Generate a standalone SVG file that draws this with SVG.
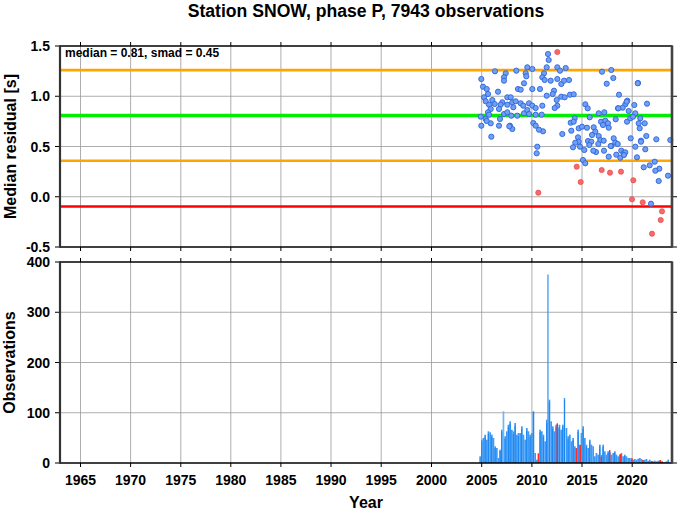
<svg xmlns="http://www.w3.org/2000/svg" width="678" height="511" viewBox="0 0 678 511">
<style>
text{font-family:"Liberation Sans",Arial,sans-serif;font-weight:bold;fill:#000}
.tl{font-size:14px;text-anchor:end}
.tx{font-size:14px;text-anchor:middle}
.lab{font-size:16px;text-anchor:middle}
.grid line{stroke:#999;stroke-width:0.8}
.tick line{stroke:#000;stroke-width:1}
.b{fill:#6fa0f5;stroke:#2e64d8;stroke-width:0.9}
.r{fill:#f56a6a;stroke:#ea4848;stroke-width:0.7}
</style>
<rect width="678" height="511" fill="#fff"/>
<text x="366" y="17" style="font-size:17.6px" text-anchor="middle">Station SNOW, phase P, 7943 observations</text>

<g id="top-panel">
<g class="grid">
<line x1="80.5" y1="46" x2="80.5" y2="247"/><line x1="130.6" y1="46" x2="130.6" y2="247"/><line x1="180.8" y1="46" x2="180.8" y2="247"/><line x1="230.8" y1="46" x2="230.8" y2="247"/><line x1="280.9" y1="46" x2="280.9" y2="247"/><line x1="331" y1="46" x2="331" y2="247"/><line x1="381.2" y1="46" x2="381.2" y2="247"/><line x1="431.5" y1="46" x2="431.5" y2="247"/><line x1="481.7" y1="46" x2="481.7" y2="247"/><line x1="531.9" y1="46" x2="531.9" y2="247"/><line x1="582" y1="46" x2="582" y2="247"/><line x1="632.2" y1="46" x2="632.2" y2="247"/>
<line x1="60" y1="96.25" x2="672" y2="96.25"/><line x1="60" y1="146.5" x2="672" y2="146.5"/><line x1="60" y1="196.75" x2="672" y2="196.75"/>
</g>
<g id="ref-lines">
<line x1="60" y1="70.1" x2="672" y2="70.1" stroke="#ffa500" stroke-width="2.6"/>
<line x1="60" y1="115.5" x2="672" y2="115.5" stroke="#00ee00" stroke-width="3.4"/>
<line x1="60" y1="160.8" x2="672" y2="160.8" stroke="#ffa500" stroke-width="2.6"/>
<line x1="60" y1="206.5" x2="672" y2="206.5" stroke="#ff0000" stroke-width="2.6"/>
</g>
<g id="points">
<circle class="r" cx="557.3" cy="52" r="2.6"/>
<g class="bp">
<circle class="b" cx="548" cy="54" r="2.6"/><circle class="b" cx="548.7" cy="60" r="2.6"/><circle class="b" cx="546.7" cy="67.3" r="2.6"/><circle class="b" cx="557.3" cy="67.3" r="2.6"/><circle class="b" cx="560" cy="70.7" r="2.6"/><circle class="b" cx="565.7" cy="68" r="2.6"/><circle class="b" cx="495" cy="71.3" r="2.6"/><circle class="b" cx="505.7" cy="73.3" r="2.6"/><circle class="b" cx="504" cy="77.3" r="2.6"/><circle class="b" cx="504" cy="80.7" r="2.6"/><circle class="b" cx="516.3" cy="70.7" r="2.6"/><circle class="b" cx="527.3" cy="67.3" r="2.6"/><circle class="b" cx="532.3" cy="69" r="2.6"/><circle class="b" cx="525.7" cy="73.3" r="2.6"/><circle class="b" cx="526.3" cy="76.3" r="2.6"/><circle class="b" cx="524" cy="83.3" r="2.6"/><circle class="b" cx="518" cy="89" r="2.6"/><circle class="b" cx="520.7" cy="89.7" r="2.6"/><circle class="b" cx="532.3" cy="89" r="2.6"/><circle class="b" cx="540" cy="89" r="2.6"/><circle class="b" cx="544" cy="73.3" r="2.6"/><circle class="b" cx="542.3" cy="77.3" r="2.6"/><circle class="b" cx="544.7" cy="80" r="2.6"/><circle class="b" cx="550.7" cy="80.7" r="2.6"/><circle class="b" cx="557.3" cy="79" r="2.6"/><circle class="b" cx="561.3" cy="84" r="2.6"/><circle class="b" cx="564" cy="80.7" r="2.6"/><circle class="b" cx="569" cy="80" r="2.6"/><circle class="b" cx="554" cy="90.7" r="2.6"/><circle class="b" cx="546.7" cy="95.7" r="2.6"/><circle class="b" cx="552.7" cy="94" r="2.6"/><circle class="b" cx="556.7" cy="100" r="2.6"/><circle class="b" cx="561.3" cy="96.7" r="2.6"/><circle class="b" cx="564.7" cy="97.3" r="2.6"/><circle class="b" cx="570" cy="94.7" r="2.6"/><circle class="b" cx="557.3" cy="105.7" r="2.6"/><circle class="b" cx="554.7" cy="108" r="2.6"/>
<circle class="b" cx="481.3" cy="79" r="2.6"/><circle class="b" cx="483" cy="86.7" r="2.6"/><circle class="b" cx="486.7" cy="89" r="2.6"/><circle class="b" cx="488" cy="94" r="2.6"/><circle class="b" cx="484" cy="97.3" r="2.6"/><circle class="b" cx="485.7" cy="101.3" r="2.6"/><circle class="b" cx="489" cy="104.7" r="2.6"/><circle class="b" cx="492.3" cy="100" r="2.6"/><circle class="b" cx="494.7" cy="104" r="2.6"/><circle class="b" cx="490.7" cy="109" r="2.6"/><circle class="b" cx="488" cy="112.3" r="2.6"/><circle class="b" cx="489" cy="114.7" r="2.6"/><circle class="b" cx="480.7" cy="116.7" r="2.6"/><circle class="b" cx="485.7" cy="119" r="2.6"/><circle class="b" cx="490.7" cy="123.3" r="2.6"/><circle class="b" cx="481.3" cy="125.7" r="2.6"/><circle class="b" cx="499" cy="125.7" r="2.6"/><circle class="b" cx="491.3" cy="136.7" r="2.6"/><circle class="b" cx="498" cy="91.7" r="2.6"/>
<circle class="b" cx="507.3" cy="97.3" r="2.6"/><circle class="b" cx="510.7" cy="97.3" r="2.6"/><circle class="b" cx="512.3" cy="102.3" r="2.6"/><circle class="b" cx="515.7" cy="101.3" r="2.6"/><circle class="b" cx="502.3" cy="102.3" r="2.6"/><circle class="b" cx="500.7" cy="104.7" r="2.6"/><circle class="b" cx="507.3" cy="104.7" r="2.6"/><circle class="b" cx="513.3" cy="107.3" r="2.6"/><circle class="b" cx="520.7" cy="103.3" r="2.6"/><circle class="b" cx="523.3" cy="105.7" r="2.6"/><circle class="b" cx="529" cy="103.3" r="2.6"/><circle class="b" cx="532.3" cy="105.7" r="2.6"/><circle class="b" cx="535.7" cy="108" r="2.6"/><circle class="b" cx="542.3" cy="105.7" r="2.6"/><circle class="b" cx="499" cy="109" r="2.6"/><circle class="b" cx="504" cy="114" r="2.6"/><circle class="b" cx="507.3" cy="112.3" r="2.6"/><circle class="b" cx="511.3" cy="115.7" r="2.6"/><circle class="b" cx="517.3" cy="115.7" r="2.6"/><circle class="b" cx="524" cy="113.3" r="2.6"/><circle class="b" cx="527.3" cy="110" r="2.6"/><circle class="b" cx="529" cy="114" r="2.6"/><circle class="b" cx="535.7" cy="114.7" r="2.6"/><circle class="b" cx="541.7" cy="114.7" r="2.6"/><circle class="b" cx="500" cy="119" r="2.6"/><circle class="b" cx="510" cy="125.7" r="2.6"/><circle class="b" cx="512.3" cy="129" r="2.6"/><circle class="b" cx="533.3" cy="123" r="2.6"/><circle class="b" cx="535.7" cy="125.7" r="2.6"/><circle class="b" cx="543" cy="131.3" r="2.6"/><circle class="b" cx="562.3" cy="134" r="2.6"/><circle class="b" cx="571.3" cy="130.7" r="2.6"/><circle class="b" cx="570.7" cy="122.7" r="2.6"/><circle class="b" cx="486.7" cy="121" r="2.6"/><circle class="b" cx="509.3" cy="126.3" r="2.6"/><circle class="b" cx="539" cy="129.7" r="2.6"/><circle class="b" cx="537.3" cy="146.7" r="2.6"/><circle class="b" cx="536.7" cy="153.3" r="2.6"/>
<circle class="b" cx="602" cy="71.7" r="2.6"/><circle class="b" cx="611.3" cy="70" r="2.6"/><circle class="b" cx="613.3" cy="78" r="2.6"/><circle class="b" cx="606.7" cy="83.7" r="2.6"/><circle class="b" cx="638" cy="83" r="2.6"/><circle class="b" cx="573.7" cy="94.3" r="2.6"/><circle class="b" cx="619" cy="94.7" r="2.6"/><circle class="b" cx="585.3" cy="104.3" r="2.6"/><circle class="b" cx="587.7" cy="108.3" r="2.6"/><circle class="b" cx="627.3" cy="100.7" r="2.6"/><circle class="b" cx="625.3" cy="104.3" r="2.6"/><circle class="b" cx="634.3" cy="105" r="2.6"/><circle class="b" cx="647" cy="103.7" r="2.6"/><circle class="b" cx="618" cy="108.3" r="2.6"/><circle class="b" cx="622.7" cy="107.7" r="2.6"/><circle class="b" cx="628.7" cy="111" r="2.6"/><circle class="b" cx="635.3" cy="113.3" r="2.6"/><circle class="b" cx="604.3" cy="112.3" r="2.6"/><circle class="b" cx="598.7" cy="113.3" r="2.6"/><circle class="b" cx="574.7" cy="118.3" r="2.6"/><circle class="b" cx="573.7" cy="121.7" r="2.6"/><circle class="b" cx="589.7" cy="117.3" r="2.6"/><circle class="b" cx="615.7" cy="119.3" r="2.6"/><circle class="b" cx="627" cy="121.7" r="2.6"/><circle class="b" cx="630.3" cy="118.3" r="2.6"/><circle class="b" cx="633" cy="116.7" r="2.6"/><circle class="b" cx="640.3" cy="118.3" r="2.6"/><circle class="b" cx="638.7" cy="123.3" r="2.6"/><circle class="b" cx="644.7" cy="123.3" r="2.6"/><circle class="b" cx="639.7" cy="128.3" r="2.6"/><circle class="b" cx="646.3" cy="136" r="2.6"/><circle class="b" cx="656.3" cy="139.3" r="2.6"/><circle class="b" cx="670.3" cy="140" r="2.6"/><circle class="b" cx="630.7" cy="138.3" r="2.6"/><circle class="b" cx="641" cy="140.7" r="2.6"/><circle class="b" cx="635.3" cy="146.7" r="2.6"/><circle class="b" cx="645.3" cy="149.3" r="2.6"/><circle class="b" cx="601" cy="121.7" r="2.6"/><circle class="b" cx="605.3" cy="120.7" r="2.6"/><circle class="b" cx="608" cy="123.3" r="2.6"/><circle class="b" cx="603" cy="125" r="2.6"/><circle class="b" cx="608.7" cy="127.7" r="2.6"/><circle class="b" cx="578.7" cy="128.3" r="2.6"/><circle class="b" cx="582" cy="126.7" r="2.6"/><circle class="b" cx="587" cy="127.7" r="2.6"/><circle class="b" cx="593.7" cy="127.3" r="2.6"/><circle class="b" cx="595.3" cy="131.7" r="2.6"/><circle class="b" cx="592" cy="135" r="2.6"/><circle class="b" cx="598.7" cy="136" r="2.6"/><circle class="b" cx="600.3" cy="140" r="2.6"/><circle class="b" cx="603.7" cy="140.7" r="2.6"/><circle class="b" cx="578" cy="137.3" r="2.6"/><circle class="b" cx="578.7" cy="141.7" r="2.6"/><circle class="b" cx="575.3" cy="142.7" r="2.6"/><circle class="b" cx="588" cy="141" r="2.6"/><circle class="b" cx="591.3" cy="141.7" r="2.6"/><circle class="b" cx="613.7" cy="138.3" r="2.6"/><circle class="b" cx="615.3" cy="142.7" r="2.6"/><circle class="b" cx="611.3" cy="146" r="2.6"/><circle class="b" cx="617.7" cy="144" r="2.6"/><circle class="b" cx="604" cy="150.7" r="2.6"/><circle class="b" cx="596" cy="152" r="2.6"/><circle class="b" cx="608.7" cy="156.7" r="2.6"/><circle class="b" cx="616.3" cy="154.7" r="2.6"/><circle class="b" cx="621.3" cy="150.7" r="2.6"/><circle class="b" cx="623.7" cy="153.3" r="2.6"/><circle class="b" cx="625.3" cy="152.3" r="2.6"/><circle class="b" cx="620.3" cy="157.7" r="2.6"/><circle class="b" cx="637" cy="157.3" r="2.6"/><circle class="b" cx="583" cy="160" r="2.6"/><circle class="b" cx="585.3" cy="163.3" r="2.6"/><circle class="b" cx="654.7" cy="161.7" r="2.6"/><circle class="b" cx="643.7" cy="167.3" r="2.6"/><circle class="b" cx="649.7" cy="165.3" r="2.6"/><circle class="b" cx="659.3" cy="168.7" r="2.6"/>
<circle class="b" cx="573" cy="147.3" r="2.6"/><circle class="b" cx="580" cy="146.7" r="2.6"/><circle class="b" cx="584.3" cy="150" r="2.6"/><circle class="b" cx="589.3" cy="145" r="2.6"/><circle class="b" cx="593.3" cy="150.7" r="2.6"/><circle class="b" cx="598.3" cy="144" r="2.6"/><circle class="b" cx="610.7" cy="146" r="2.6"/><circle class="b" cx="624" cy="155" r="2.6"/><circle class="b" cx="641" cy="141.7" r="2.6"/><circle class="b" cx="655.3" cy="170.7" r="2.6"/><circle class="b" cx="668" cy="175.7" r="2.6"/><circle class="b" cx="658.7" cy="181" r="2.6"/><circle class="b" cx="651" cy="203.7" r="2.6"/><circle class="b" cx="618.3" cy="108.3" r="2.6"/><circle class="b" cx="626.7" cy="101.7" r="2.6"/><circle class="b" cx="637.7" cy="83.3" r="2.6"/>
</g>
<circle class="r" cx="576.7" cy="166.7" r="2.6"/><circle class="r" cx="580.7" cy="182" r="2.6"/><circle class="r" cx="601.7" cy="170" r="2.6"/><circle class="r" cx="610" cy="172.7" r="2.6"/><circle class="r" cx="621" cy="171.7" r="2.6"/><circle class="r" cx="633.3" cy="180.3" r="2.6"/><circle class="r" cx="538.3" cy="192.7" r="2.6"/><circle class="r" cx="632" cy="199.3" r="2.6"/><circle class="r" cx="642.7" cy="202.3" r="2.6"/><circle class="r" cx="662" cy="211.3" r="2.6"/><circle class="r" cx="660.7" cy="220" r="2.6"/><circle class="r" cx="652" cy="233.7" r="2.6"/>
</g>
<g class="tick">
<line x1="55" y1="46" x2="60" y2="46"/><line x1="55" y1="96.25" x2="60" y2="96.25"/><line x1="55" y1="146.5" x2="60" y2="146.5"/><line x1="55" y1="196.75" x2="60" y2="196.75"/><line x1="55" y1="247" x2="60" y2="247"/>
<line x1="672" y1="96.25" x2="677" y2="96.25"/><line x1="672" y1="146.5" x2="677" y2="146.5"/><line x1="672" y1="196.75" x2="677" y2="196.75"/><line x1="672" y1="247" x2="677" y2="247"/>
<line x1="80.5" y1="42" x2="80.5" y2="46"/><line x1="130.6" y1="42" x2="130.6" y2="46"/><line x1="180.8" y1="42" x2="180.8" y2="46"/><line x1="230.8" y1="42" x2="230.8" y2="46"/><line x1="280.9" y1="42" x2="280.9" y2="46"/><line x1="331" y1="42" x2="331" y2="46"/><line x1="381.2" y1="42" x2="381.2" y2="46"/><line x1="431.5" y1="42" x2="431.5" y2="46"/><line x1="481.7" y1="42" x2="481.7" y2="46"/><line x1="531.9" y1="42" x2="531.9" y2="46"/><line x1="582" y1="42" x2="582" y2="46"/><line x1="632.2" y1="42" x2="632.2" y2="46"/>
<line x1="80.5" y1="247" x2="80.5" y2="251"/><line x1="130.6" y1="247" x2="130.6" y2="251"/><line x1="180.8" y1="247" x2="180.8" y2="251"/><line x1="230.8" y1="247" x2="230.8" y2="251"/><line x1="280.9" y1="247" x2="280.9" y2="251"/><line x1="331" y1="247" x2="331" y2="251"/><line x1="381.2" y1="247" x2="381.2" y2="251"/><line x1="431.5" y1="247" x2="431.5" y2="251"/><line x1="481.7" y1="247" x2="481.7" y2="251"/><line x1="531.9" y1="247" x2="531.9" y2="251"/><line x1="582" y1="247" x2="582" y2="251"/><line x1="632.2" y1="247" x2="632.2" y2="251"/>
</g>
<g id="top-frame">
<line x1="60" y1="46" x2="672" y2="46" stroke="#000" stroke-width="1.4"/>
<line x1="60" y1="247" x2="672" y2="247" stroke="#000" stroke-width="1.6"/>
<line x1="60" y1="45.3" x2="60" y2="247.7" stroke="#333" stroke-width="2.2"/>
<line x1="672" y1="45.3" x2="672" y2="247.7" stroke="#444" stroke-width="2.6"/>
</g>
<text x="65" y="57" style="font-size:12px">median = 0.81, smad = 0.45</text>
<g id="top-ticklabels" class="tl">
<text x="50" y="51">1.5</text><text x="50" y="101.25">1.0</text><text x="50" y="151.5">0.5</text><text x="50" y="201.75">0.0</text><text x="50" y="252">-0.5</text>
</g>
<text class="lab" transform="translate(16,146.5) rotate(-90)">Median residual [s]</text>
</g>

<g id="bottom-panel">
<g class="grid">
<line x1="80.5" y1="262" x2="80.5" y2="463"/><line x1="130.6" y1="262" x2="130.6" y2="463"/><line x1="180.8" y1="262" x2="180.8" y2="463"/><line x1="230.8" y1="262" x2="230.8" y2="463"/><line x1="280.9" y1="262" x2="280.9" y2="463"/><line x1="331" y1="262" x2="331" y2="463"/><line x1="381.2" y1="262" x2="381.2" y2="463"/><line x1="431.5" y1="262" x2="431.5" y2="463"/><line x1="481.7" y1="262" x2="481.7" y2="463"/><line x1="531.9" y1="262" x2="531.9" y2="463"/><line x1="582" y1="262" x2="582" y2="463"/><line x1="632.2" y1="262" x2="632.2" y2="463"/>
<line x1="60" y1="312.25" x2="672" y2="312.25"/><line x1="60" y1="362.5" x2="672" y2="362.5"/><line x1="60" y1="412.75" x2="672" y2="412.75"/>
</g>
<g id="bars-light" fill="#3d9af6">
<rect x="479.3" y="456.3" width="1.7" height="6.7"/><rect x="481" y="439.7" width="1.7" height="23.3"/><rect x="482.6" y="438" width="1.7" height="25"/><rect x="484.3" y="434.7" width="1.7" height="28.3"/><rect x="486" y="439.7" width="1.7" height="23.3"/><rect x="487.6" y="431.3" width="1.7" height="31.7"/><rect x="489.3" y="432.3" width="1.7" height="30.7"/><rect x="491" y="434.7" width="1.7" height="28.3"/><rect x="492.6" y="438" width="1.7" height="25"/><rect x="494.3" y="446.3" width="1.7" height="16.7"/><rect x="496" y="448" width="1.7" height="15"/><rect x="497.6" y="458" width="1.7" height="5"/><rect x="499.3" y="449.7" width="1.7" height="13.3"/><rect x="501" y="429.7" width="1.7" height="33.3"/><rect x="502.6" y="411.3" width="1.7" height="51.7" fill="#70b6fa"/><rect x="504.3" y="436.3" width="1.7" height="26.7"/><rect x="506" y="431.3" width="1.7" height="31.7"/><rect x="507.6" y="424.7" width="1.7" height="38.3"/><rect x="509.3" y="421.3" width="1.7" height="41.7"/><rect x="511" y="429.7" width="1.7" height="33.3"/><rect x="512.6" y="431.3" width="1.7" height="31.7"/><rect x="514.3" y="423" width="1.7" height="40"/><rect x="516" y="434.7" width="1.7" height="28.3"/><rect x="517.6" y="433" width="1.7" height="30"/><rect x="519.3" y="433" width="1.7" height="30"/><rect x="521" y="426.3" width="1.7" height="36.7"/><rect x="522.6" y="434.7" width="1.7" height="28.3"/><rect x="524.3" y="439.7" width="1.7" height="23.3"/><rect x="526" y="428" width="1.7" height="35"/><rect x="527.6" y="431.3" width="1.7" height="31.7"/><rect x="529.3" y="434.7" width="1.7" height="28.3"/><rect x="531" y="433" width="1.7" height="30"/><rect x="532.6" y="411.3" width="1.7" height="51.7"/><rect x="534.3" y="453" width="1.7" height="10"/><rect x="536" y="459.7" width="1.7" height="3.3"/><rect x="537.6" y="460" width="1.7" height="3"/><rect x="539.3" y="429.7" width="1.7" height="33.3"/><rect x="541" y="431.3" width="1.7" height="31.7"/><rect x="542.6" y="434.7" width="1.7" height="28.3"/><rect x="544.3" y="441.3" width="1.7" height="21.7"/><rect x="546" y="419.7" width="1.7" height="43.3"/><rect x="547.3" y="274.5" width="1.3" height="188.5"/><rect x="548.6" y="399.7" width="1.7" height="63.3"/><rect x="550.3" y="421.3" width="1.7" height="41.7"/><rect x="552" y="426.3" width="1.7" height="36.7"/><rect x="553.6" y="431.3" width="1.7" height="31.7"/><rect x="555.3" y="424.7" width="1.7" height="38.3"/><rect x="557" y="428" width="1.7" height="35"/><rect x="558.6" y="424.7" width="1.7" height="38.3"/><rect x="560.3" y="429.7" width="1.7" height="33.3"/><rect x="562" y="424.7" width="1.7" height="38.3"/><rect x="563.8" y="398" width="1.4" height="65"/><rect x="565.6" y="428" width="1.7" height="35"/><rect x="567.3" y="436.3" width="1.7" height="26.7"/><rect x="569" y="434.7" width="1.7" height="28.3"/><rect x="570.6" y="441.3" width="1.7" height="21.7"/><rect x="572.3" y="438" width="1.7" height="25"/><rect x="574" y="446.3" width="1.7" height="16.7"/><rect x="575.6" y="448" width="1.7" height="15"/><rect x="577.3" y="429.7" width="1.7" height="33.3"/><rect x="579" y="444.7" width="1.7" height="18.3"/><rect x="580.6" y="433" width="1.7" height="30"/><rect x="582.3" y="426.3" width="1.7" height="36.7"/><rect x="584" y="438" width="1.7" height="25"/><rect x="585.6" y="444.7" width="1.7" height="18.3"/><rect x="587.3" y="448" width="1.7" height="15"/><rect x="589" y="439.7" width="1.7" height="23.3"/><rect x="590.6" y="444.7" width="1.7" height="18.3"/><rect x="592.3" y="446.3" width="1.7" height="16.7"/><rect x="594" y="456.3" width="1.7" height="6.7"/><rect x="595.6" y="453" width="1.7" height="10"/><rect x="597.3" y="454.7" width="1.7" height="8.3"/><rect x="599" y="444.7" width="1.7" height="18.3"/><rect x="600.6" y="455" width="1.7" height="8"/><rect x="602.3" y="444.7" width="1.7" height="18.3"/><rect x="604" y="451.3" width="1.7" height="11.7"/><rect x="605.6" y="454.7" width="1.7" height="8.3"/><rect x="607.3" y="451.3" width="1.7" height="11.7"/><rect x="609" y="452" width="1.7" height="11"/><rect x="610.6" y="454.7" width="1.7" height="8.3"/><rect x="612.3" y="453" width="1.7" height="10"/><rect x="614" y="451.3" width="1.7" height="11.7"/><rect x="615.6" y="454.7" width="1.7" height="8.3"/><rect x="617.3" y="456.3" width="1.7" height="6.7"/><rect x="619" y="455" width="1.7" height="8"/><rect x="620.6" y="453" width="1.7" height="10"/><rect x="622.3" y="456.3" width="1.7" height="6.7"/><rect x="624" y="454.7" width="1.7" height="8.3"/><rect x="625.6" y="456.3" width="1.7" height="6.7"/><rect x="627.3" y="458" width="1.7" height="5"/><rect x="629" y="458" width="1.7" height="5"/><rect x="630.6" y="458.5" width="1.7" height="4.5"/><rect x="632.3" y="459.7" width="1.7" height="3.3"/><rect x="634" y="459" width="1.7" height="4"/><rect x="635.6" y="459.7" width="1.7" height="3.3"/><rect x="637.3" y="458.7" width="1.7" height="4.3"/><rect x="639" y="458" width="1.7" height="5"/><rect x="640.6" y="459" width="1.7" height="4"/><rect x="642.3" y="460" width="1.7" height="3"/><rect x="644" y="459.7" width="1.7" height="3.3"/><rect x="645.6" y="459" width="1.7" height="4"/><rect x="647.3" y="460.7" width="1.7" height="2.3"/><rect x="649" y="459.7" width="1.7" height="3.3"/><rect x="650.6" y="461.3" width="1.7" height="1.7"/><rect x="652.3" y="461.3" width="1.7" height="1.7"/><rect x="654" y="460.7" width="1.7" height="2.3"/><rect x="655.6" y="461.3" width="1.7" height="1.7"/><rect x="657.3" y="460.7" width="1.7" height="2.3"/><rect x="659" y="460.5" width="1.7" height="2.5"/><rect x="660.6" y="461.3" width="1.7" height="1.7"/><rect x="662.3" y="462.3" width="1.7" height="0.7"/><rect x="664" y="462.3" width="1.7" height="0.7"/><rect x="665.6" y="461.3" width="1.7" height="1.7"/><rect x="667.3" y="459.7" width="1.7" height="3.3"/><rect x="669" y="462.3" width="1.7" height="0.7"/>
</g>
<g id="bars-dark" fill="#1a84f0">
<rect x="481.2" y="442" width="1" height="21"/><rect x="484.5" y="437" width="1" height="26"/><rect x="487.8" y="434" width="1" height="29"/><rect x="491.2" y="437" width="1" height="26"/><rect x="494.5" y="448" width="1" height="15"/><rect x="499.5" y="451" width="1" height="12"/><rect x="501.2" y="432" width="1" height="31"/><rect x="504.5" y="439" width="1" height="24"/><rect x="507.8" y="427" width="1" height="36"/><rect x="509.5" y="424" width="1" height="39"/><rect x="512.8" y="434" width="1" height="29"/><rect x="514.5" y="426" width="1" height="37"/><rect x="517.8" y="436" width="1" height="27"/><rect x="521.2" y="429" width="1" height="34"/><rect x="526.2" y="431" width="1" height="32"/><rect x="529.5" y="437" width="1" height="26"/><rect x="532.8" y="412" width="1" height="51"/><rect x="539.5" y="432" width="1" height="31"/><rect x="542.8" y="437" width="1" height="26"/><rect x="546.2" y="423" width="1" height="40"/><rect x="548.8" y="402" width="1" height="61"/><rect x="552.2" y="429" width="1" height="34"/><rect x="555.5" y="427" width="1" height="36"/><rect x="558.8" y="427" width="1" height="36"/><rect x="562.2" y="427" width="1" height="36"/><rect x="564" y="400" width="1" height="63"/><rect x="567.5" y="439" width="1" height="24"/><rect x="572.5" y="440" width="1" height="23"/><rect x="577.5" y="432" width="1" height="31"/><rect x="582.5" y="429" width="1" height="34"/><rect x="585.8" y="447" width="1" height="16"/><rect x="589.2" y="442" width="1" height="21"/><rect x="599.2" y="447" width="1" height="16"/><rect x="602.5" y="447" width="1" height="16"/><rect x="607.5" y="453" width="1" height="10"/><rect x="614.2" y="453" width="1" height="10"/><rect x="620.8" y="455" width="1" height="8"/><rect x="624.2" y="456" width="1" height="7"/>
</g>
<g id="bars-red" fill="#ff2a2a">
<rect x="537.6" y="453.3" width="1.4" height="9.7"/><rect x="556.6" y="423.3" width="1.4" height="39.7"/><rect x="575.6" y="448.3" width="1.4" height="14.7"/><rect x="579.6" y="445" width="1.4" height="18"/><rect x="600.6" y="456.7" width="1.4" height="6.3"/><rect x="609" y="450" width="1.4" height="13"/><rect x="619.6" y="454" width="1.4" height="9"/><rect x="631.3" y="458.3" width="1.4" height="4.7"/><rect x="642.3" y="460" width="1.4" height="3"/><rect x="651.3" y="461" width="1.4" height="2"/><rect x="659.6" y="460" width="1.4" height="3"/><rect x="661.6" y="461.3" width="1.2" height="1.7"/>
</g>
<g class="tick">
<line x1="55" y1="262" x2="60" y2="262"/><line x1="55" y1="312.25" x2="60" y2="312.25"/><line x1="55" y1="362.5" x2="60" y2="362.5"/><line x1="55" y1="412.75" x2="60" y2="412.75"/><line x1="55" y1="463" x2="60" y2="463"/>
<line x1="672" y1="312.25" x2="677" y2="312.25"/><line x1="672" y1="362.5" x2="677" y2="362.5"/><line x1="672" y1="412.75" x2="677" y2="412.75"/><line x1="672" y1="463" x2="677" y2="463"/>
<line x1="80.5" y1="258" x2="80.5" y2="262"/><line x1="130.6" y1="258" x2="130.6" y2="262"/><line x1="180.8" y1="258" x2="180.8" y2="262"/><line x1="230.8" y1="258" x2="230.8" y2="262"/><line x1="280.9" y1="258" x2="280.9" y2="262"/><line x1="331" y1="258" x2="331" y2="262"/><line x1="381.2" y1="258" x2="381.2" y2="262"/><line x1="431.5" y1="258" x2="431.5" y2="262"/><line x1="481.7" y1="258" x2="481.7" y2="262"/><line x1="531.9" y1="258" x2="531.9" y2="262"/><line x1="582" y1="258" x2="582" y2="262"/><line x1="632.2" y1="258" x2="632.2" y2="262"/>
<line x1="80.5" y1="463" x2="80.5" y2="467"/><line x1="130.6" y1="463" x2="130.6" y2="467"/><line x1="180.8" y1="463" x2="180.8" y2="467"/><line x1="230.8" y1="463" x2="230.8" y2="467"/><line x1="280.9" y1="463" x2="280.9" y2="467"/><line x1="331" y1="463" x2="331" y2="467"/><line x1="381.2" y1="463" x2="381.2" y2="467"/><line x1="431.5" y1="463" x2="431.5" y2="467"/><line x1="481.7" y1="463" x2="481.7" y2="467"/><line x1="531.9" y1="463" x2="531.9" y2="467"/><line x1="582" y1="463" x2="582" y2="467"/><line x1="632.2" y1="463" x2="632.2" y2="467"/>
</g>
<g id="bottom-frame">
<line x1="60" y1="262" x2="672" y2="262" stroke="#000" stroke-width="1.4"/>
<line x1="60" y1="463" x2="672" y2="463" stroke="#000" stroke-width="1.6"/>
<line x1="60" y1="261.3" x2="60" y2="463.7" stroke="#333" stroke-width="2.2"/>
<line x1="672" y1="261.3" x2="672" y2="463.7" stroke="#444" stroke-width="2.6"/>
</g>
<g id="bottom-ticklabels" class="tl">
<text x="50" y="267">400</text><text x="50" y="317.25">300</text><text x="50" y="367.5">200</text><text x="50" y="417.75">100</text><text x="50" y="468">0</text>
</g>
<g id="year-labels" class="tx">
<text x="80.5" y="484.5">1965</text><text x="130.6" y="484.5">1970</text><text x="180.8" y="484.5">1975</text><text x="230.8" y="484.5">1980</text><text x="280.9" y="484.5">1985</text><text x="331" y="484.5">1990</text><text x="381.2" y="484.5">1995</text><text x="431.5" y="484.5">2000</text><text x="481.7" y="484.5">2005</text><text x="531.9" y="484.5">2010</text><text x="582" y="484.5">2015</text><text x="632.2" y="484.5">2020</text>
</g>
<text class="lab" transform="translate(15,362.5) rotate(-90)">Observations</text>
<text class="lab" x="366" y="508">Year</text>
</g>
</svg>
